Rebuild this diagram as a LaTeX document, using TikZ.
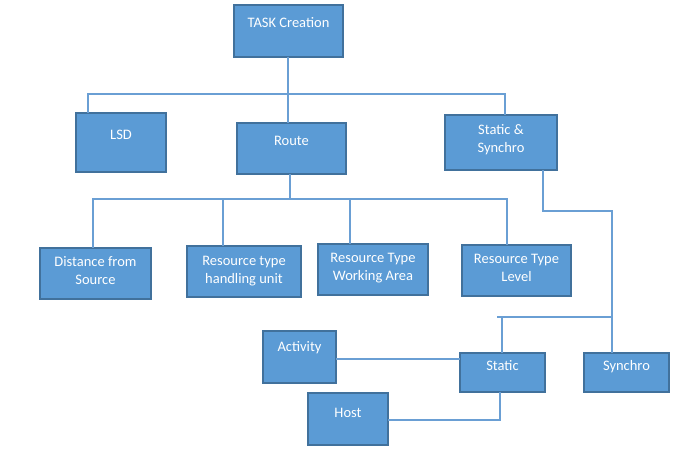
\documentclass[tikz,border=0pt]{standalone}
\usepackage{fontspec}
\setmainfont{Carlito}
\definecolor{boxfill}{HTML}{5B9BD5}
\definecolor{boxline}{HTML}{41719C}
\definecolor{conn}{HTML}{6A9FD4}
\newcommand\bxt[4]{\parbox[c][#2pt][t]{#1pt}{\centering\rule{0pt}{#3pt}#4\par}}
\tikzset{
  box/.style={draw=boxline, fill=boxfill, line width=1.1pt, inner sep=0pt, outer sep=0pt,
    text=white, anchor=north west, font=\fontsize{14.5}{18}\selectfont},
  link/.style={draw=conn, line width=1.2pt}
}
\begin{document}
\begin{tikzpicture}[x=1pt,y=-1pt]
\useasboundingbox (0,0) rectangle (682,459);
% boxes
\node[box] (task) at (234,5)   {\bxt{109}{52}{22}{TASK Creation}};
\node[box] (lsd)  at (76,113)  {\bxt{90}{59}{26}{LSD}};
\node[box] (route) at (237,123) {\bxt{109}{51}{22}{Route}};
\node[box] (ss)   at (445,115) {\bxt{112}{55}{19}{Static \&\\Synchro}};
\node[box] (dist) at (40,248)  {\bxt{111}{51}{18}{Distance from\\Source}};
\node[box] (rth)  at (187,246) {\bxt{114}{51}{19}{Resource type\\handling unit}};
\node[box] (rtw)  at (318,244) {\bxt{110}{51}{18}{Resource Type\\Working Area}};
\node[box] (rtl)  at (462,245) {\bxt{109}{51}{18}{Resource Type\\Level}};
\node[box] (act)  at (263,331) {\bxt{73}{52}{20}{Activity}};
\node[box] (stc)  at (460,353) {\bxt{85}{39}{17}{Static}};
\node[box] (syn)  at (584,353) {\bxt{85}{39}{17}{Synchro}};
\node[box] (host) at (308,393) {\bxt{80}{52}{24}{Host}};
% top bus
\coordinate (t1) at (288,94);
\coordinate (bl) at (88,94);
\coordinate (br) at (505,94);
\draw[link] (task.south -| t1) -- (t1 |- route.north);
\draw[link] (bl |- lsd.north) -- (bl) -- (br) -- (br |- ss.north);
% route bus
\coordinate (r1) at (290,199);
\coordinate (d1) at (93,199);
\coordinate (d2) at (223,199);
\coordinate (d3) at (350,199);
\coordinate (d4) at (507,199);
\draw[link] (route.south -| r1) -- (r1);
\draw[link] (d1 |- dist.north) -- (d1) -- (d4) -- (d4 |- rtl.north);
\draw[link] (d2) -- (d2 |- rth.north);
\draw[link] (d3) -- (d3 |- rtw.north);
% static & synchro
\coordinate (s1) at (543,211);
\coordinate (s2) at (612,211);
\coordinate (s3) at (612,317);
\coordinate (s4) at (497,317);
\coordinate (s5) at (502,317);
\draw[link] (ss.south -| s1) -- (s1) -- (s2) -- (s2 |- syn.north);
\draw[link] (s4) -- (s3);
\draw[link] (s5) -- (s5 |- stc.north);
% activity / host
\coordinate (a1) at (336,359);
\draw[link] (act.east |- a1) -- (a1 -| stc.west);
\coordinate (h1) at (500,420);
\draw[link] (host.east |- h1) -- (h1) -- (h1 |- stc.south);
\end{tikzpicture}
\end{document}
